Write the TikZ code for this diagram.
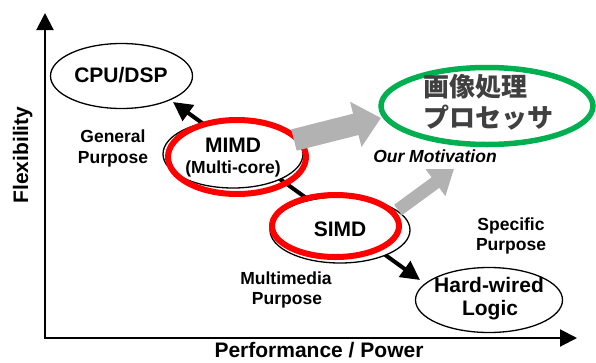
\documentclass[tikz,border=0pt]{standalone}
\usepackage{fontspec}
\setmainfont{Liberation Sans}
\newfontfamily\jpfont{Noto Sans CJK JP}
\usetikzlibrary{shapes.geometric,arrows.meta}
\definecolor{myred}{RGB}{255,0,0}
\definecolor{mygreen}{RGB}{0,176,80}
\definecolor{mygray}{RGB}{178,178,178}
\definecolor{jpgray}{RGB}{64,64,64}
\begin{document}
\begin{tikzpicture}[x=1pt,y=-1pt,
  oval/.style={draw=black,line width=1.3pt,fill=white,ellipse,inner sep=0pt},
  redoval/.style={draw=myred,line width=6pt,ellipse,inner sep=0pt},
  greenoval/.style={draw=mygreen,line width=5.5pt,ellipse,inner sep=0pt},
  axisline/.style={line width=2pt,{Triangle[length=17pt,width=17pt]}-{Triangle[length=17pt,width=17pt]}},
  trendline/.style={line width=4pt,{Triangle[length=19pt,width=19pt]}-{Triangle[length=19pt,width=19pt]}},
  bigtxt/.style={font=\fontsize{21}{24}\selectfont\bfseries,anchor=base,inner sep=0pt},
  smalltxt/.style={font=\fontsize{17.5}{20}\selectfont\bfseries,anchor=base,inner sep=0pt},
  jptxt/.style={font=\fontsize{26}{30}\selectfont\jpfont\bfseries,text=jpgray,anchor=base west,inner sep=0pt},
]
\useasboundingbox (0,0) rectangle (596,362);
% axes
\coordinate (ytop) at (45,13);
\coordinate (orig) at (45,338);
\coordinate (xend) at (577,338);
\draw[axisline] (ytop) -- (orig) -- (xend);
% trend line
\coordinate (t1) at (173,102);
\coordinate (t2) at (420,280);
\draw[trendline] (t1) -- (t2);
% ellipses
\node[oval,minimum width=142pt,minimum height=65pt] (cpu) at (121.5,76) {};
\node[oval,minimum width=147pt,minimum height=65pt] (hw) at (489,300) {};
\node[oval,minimum width=140pt,minimum height=68pt] (mimdb) at (233,154) {};
\node[redoval,minimum width=138pt,minimum height=74pt] (mimd) at (237,157) {};
\node[oval,minimum width=140pt,minimum height=66pt] (simdb) at (340,230) {};
\node[redoval,minimum width=127pt,minimum height=62pt] (simd) at (335.5,226) {};
\node[greenoval,minimum width=212pt,minimum height=77pt] (ip) at (487,106) {};
% gray arrows
\coordinate (g1s) at (294,140);
\coordinate (g1e) at (381,118);
\draw[mygray,line width=22pt,-{Triangle[length=26pt,width=45pt]}] (g1s) -- (g1e);
\coordinate (g2s) at (398,210);
\coordinate (g2e) at (454,169);
\draw[mygray,line width=13pt,-{Triangle[length=23pt,width=32pt]}] (g2s) -- (g2e);
% texts
\node[bigtxt,rotate=90] (flex) at (28,155) {Flexibility};
\node[bigtxt] (perf) at (319,357) {Performance / Power};
\node[bigtxt] (cpul) at (121,82) {CPU/DSP};
\node[smalltxt] (gen1) at (113,142.5) {General};
\node[smalltxt] (gen2) at (113,163) {Purpose};
\node[bigtxt] (mimdl1) at (233,152) {MIMD};
\node[smalltxt] (mimdl2) at (233,173.5) {(Multi-core)};
\node[bigtxt] (simdl) at (340,236) {SIMD};
\node[smalltxt] (mm1) at (286,284) {Multimedia};
\node[smalltxt] (mm2) at (287,304) {Purpose};
\node[smalltxt] (sp1) at (511,230) {Specific};
\node[smalltxt] (sp2) at (511,250) {Purpose};
\node[bigtxt] (hw1) at (489,292) {Hard-wired};
\node[bigtxt] (hw2) at (490,315) {Logic};
\node[smalltxt,font=\fontsize{17.5}{20}\selectfont\bfseries\itshape] (mot) at (435,162) {Our Motivation};
\node[jptxt] (jp1) at (423,96) {画像処理};
\node[jptxt] (jp2) at (423,127) {プロセッサ};
\end{tikzpicture}
\end{document}
